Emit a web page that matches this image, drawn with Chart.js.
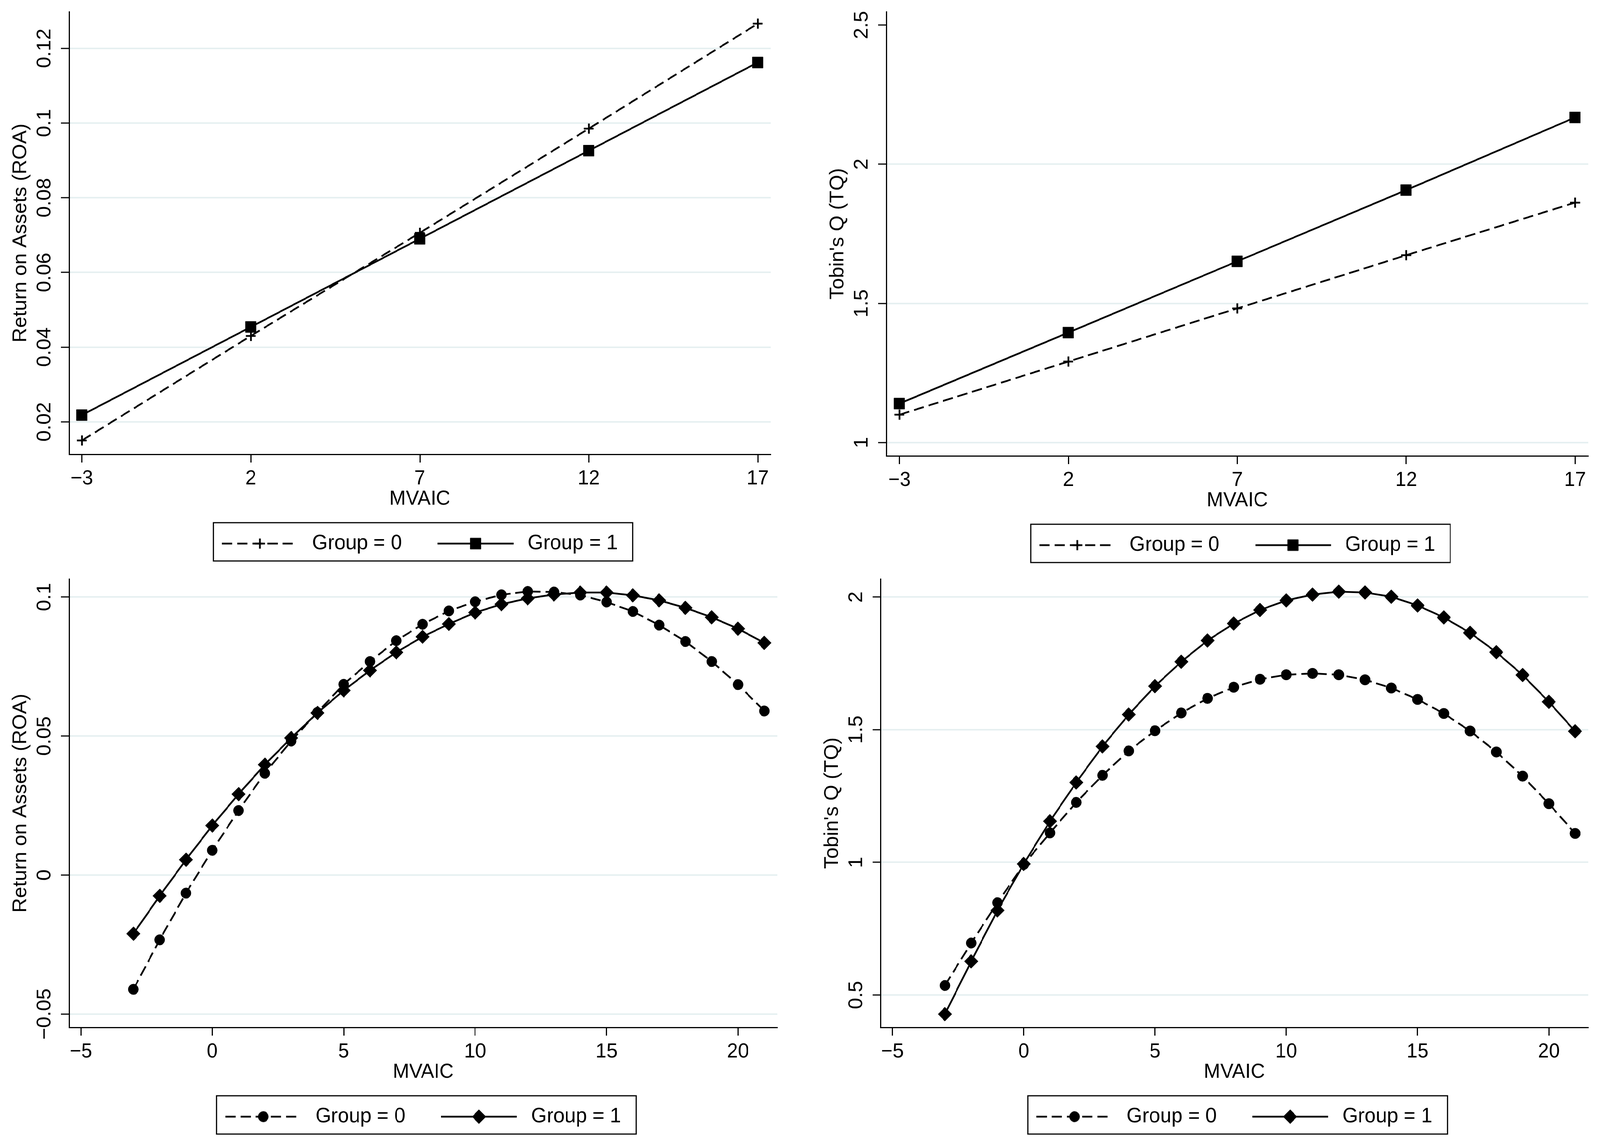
<!DOCTYPE html>
<html>
<head>
<meta charset="utf-8">
<title>ROA and Tobin's Q by MVAIC</title>
<script src="https://cdn.jsdelivr.net/npm/chart.js@4.4.1/dist/chart.umd.min.js"></script>
<style>
  html, body { margin: 0; padding: 0; background: #fff; overflow: hidden; }
  #page { position: relative; width: 4219px; height: 2931px; overflow: hidden; background: #fff; transform-origin: 0 0; }
  #page canvas { position: absolute; }
</style>
</head>
<body>
<div id="page">
  <canvas id="roa-linear"></canvas>
  <canvas id="tq-linear"></canvas>
  <canvas id="roa-quad"></canvas>
  <canvas id="tq-quad"></canvas>
</div>
<script>
'use strict';

// ************ DATA

// top row - linear fit, MVAIC in steps of 5
const mvaicLinear = [-3, 2, 7, 12, 17];
const roaLinearGroup0 = [0.0150, 0.0430, 0.0706, 0.0985, 0.1266];
const roaLinearGroup1 = [0.0218, 0.0454, 0.0690, 0.0926, 0.1162];
const tqLinearGroup0 = [1.100, 1.291, 1.482, 1.673, 1.862];
const tqLinearGroup1 = [1.140, 1.395, 1.651, 1.907, 2.168];

// bottom row - quadratic fit, MVAIC in steps of 1
const mvaicQuad = [-3, -2, -1, 0, 1, 2, 3, 4, 5, 6, 7, 8, 9, 10, 11, 12, 13, 14, 15, 16, 17, 18, 19, 20, 21];
const roaQuadGroup0 = [-0.0411, -0.0233, -0.0065, 0.0089, 0.0232, 0.0366, 0.0482, 0.0585, 0.0686, 0.0768, 0.0843, 0.0902, 0.0950,
  0.0983, 0.1008, 0.1020, 0.1018, 0.1007, 0.0982, 0.0948, 0.0899, 0.0840, 0.0768, 0.0685, 0.0590];
const roaQuadGroup1 = [-0.0211, -0.0075, 0.0055, 0.0178, 0.0291, 0.0397, 0.0493, 0.0583, 0.0664, 0.0736, 0.0801, 0.0857, 0.0903,
  0.0944, 0.0974, 0.0995, 0.1009, 0.1016, 0.1016, 0.1006, 0.0988, 0.0961, 0.0927, 0.0886, 0.0835];
const tqQuadGroup0 = [0.536, 0.696, 0.848, 0.992, 1.111, 1.226, 1.328, 1.420, 1.496, 1.563, 1.618, 1.660, 1.690,
  1.707, 1.712, 1.707, 1.688, 1.657, 1.614, 1.561, 1.495, 1.416, 1.325, 1.221, 1.109];
const tqQuadGroup1 = [0.428, 0.627, 0.819, 0.994, 1.155, 1.301, 1.437, 1.557, 1.664, 1.756, 1.836, 1.900, 1.951,
  1.987, 2.009, 2.020, 2.017, 2.001, 1.968, 1.923, 1.865, 1.792, 1.706, 1.605, 1.494];

// tick labels
const xTicksLinear = [-3, 2, 7, 12, 17];
const xTicksQuad = [-5, 0, 5, 10, 15, 20];
const roaLinearTicks = [0.02, 0.04, 0.06, 0.08, 0.1, 0.12];
const tqLinearTicks = [1, 1.5, 2, 2.5];
const roaQuadTicks = [-0.05, 0, 0.05, 0.1];
const tqQuadTicks = [0.5, 1, 1.5, 2];

const groupLabels = ['Group = 0', 'Group = 1'];
const xTitle = 'MVAIC';

// ************ LOOK

const PAGE_W = 4219;
const PAGE_H = 2931;
const FONT_FAMILY = "'Liberation Sans', Arial, Helvetica, sans-serif";
const AXIS_FONT = 52;
const LEGEND_FONT = 53;
const GRID_COLOR = 'rgb(230, 240, 241)';
const DASH = [27, 13];
const LINE_W = 4.5;

// space around the plot region (px)
const Y_SCALE_W = 182;   // y title + tick labels + ticks
const X_SCALE_H = 108;   // ticks + tick labels + x title
const TICK_LEN = 21;
const LEGEND_PAD = 94;
const LEGEND_ICON_W = 211;
const TOP_PAD = 60;
const RIGHT_PAD = 40;
const BOTTOM_PAD = 10;
const LEGEND_H = LEGEND_FONT + LEGEND_PAD + 10;

Chart.defaults.font.family = FONT_FAMILY;
Chart.defaults.color = '#000';

// fit the page into the window if the window is not the full size
(function fitPage() {
  let sx = window.innerWidth / PAGE_W;
  let sy = window.innerHeight / PAGE_H;
  if (!(sx > 0)) return;
  if (!(sy > 0.9 && sy < 1.1)) sy = sx;
  if (Math.abs(sx - 1) > 0.002 || Math.abs(sy - 1) > 0.002) {
    document.getElementById('page').style.transform = 'scale(' + sx + ',' + sy + ')';
  }
})();

const markerStyles = {
  plus: { pointStyle: 'cross', radius: 13, borderWidth: 4.5 },
  square: { pointStyle: 'rect', radius: 20, borderWidth: 1 },
  dot: { pointStyle: 'circle', radius: 13.5, borderWidth: 1 },
  diamond: { pointStyle: 'rectRot', radius: 18, borderWidth: 1 }
};

function tickText(v) {
  return String(v).replace('-', '\u2212');
}

// small picture of line + marker for the legend
function makeIcon(dashed, m) {
  let c = document.createElement('canvas');
  c.width = LEGEND_ICON_W;
  c.height = 60;
  let g = c.getContext('2d');
  g.strokeStyle = '#000';
  g.fillStyle = '#000';
  g.lineWidth = LINE_W;
  g.setLineDash(dashed ? DASH : []);
  g.beginPath();
  g.moveTo(0, 30);
  g.lineTo(200, 30);
  g.stroke();
  g.setLineDash([]);
  g.lineWidth = m.borderWidth;
  Chart.helpers.drawPoint(g, { pointStyle: m.pointStyle, radius: m.radius, rotation: 0, borderWidth: m.borderWidth }, 100, 30);
  return c;
}

function series(label, xs, ys, dashed, marker, order) {
  const m = markerStyles[marker];
  return {
    label: label,
    data: xs.map((x, i) => ({ x: x, y: ys[i] })),
    borderColor: '#000',
    backgroundColor: '#000',
    borderWidth: LINE_W,
    borderDash: dashed ? DASH : [],
    pointStyle: m.pointStyle,
    pointRadius: m.radius,
    pointHoverRadius: m.radius,
    pointBorderWidth: m.borderWidth,
    pointBackgroundColor: '#000',
    pointBorderColor: '#000',
    tension: 0,
    fill: false,
    order: order,
    legendIcon: makeIcon(dashed, m)
  };
}

// padding that puts the rotated y labels 63px left of the axis
function yTickPadding(ticks) {
  let g = document.createElement('canvas').getContext('2d');
  g.font = AXIS_FONT + 'px ' + FONT_FAMILY;
  let widest = Math.max(...ticks.map(v => g.measureText(tickText(v)).width));
  return 63 - TICK_LEN - widest / 2;
}

// frame round the legend like stata draws it
const legendFrame = {
  id: 'legendFrame',
  afterDraw(chart) {
    const boxes = chart.legend && chart.legend.legendHitBoxes;
    if (!boxes || !boxes.length) return;
    const first = boxes[0];
    const last = boxes[boxes.length - 1];
    const left = first.left - 23;
    const right = last.left + last.width + 40;
    const top = first.top - 27;
    const bottom = first.top + first.height + 18;
    const ctx = chart.ctx;
    ctx.save();
    ctx.setLineDash([]);
    ctx.strokeStyle = '#000';
    ctx.lineWidth = 3;
    ctx.strokeRect(left, top, right - left, bottom - top);
    ctx.restore();
  }
};

// ************ PANELS (plot region in page pixels)

const panels = [
  {
    id: 'roa-linear', axisLeft: 182, right: 2032, top: 30, bottom: 1163,
    xMin: -3.38, xMax: 17.38, xTicks: xTicksLinear,
    yMin: 0.0113, yMax: 0.1298, yTicks: roaLinearTicks, noGrid: [],
    yTitle: 'Return on Assets (ROA)',
    datasets: [
      series(groupLabels[0], mvaicLinear, roaLinearGroup0, true, 'plus', 1),
      series(groupLabels[1], mvaicLinear, roaLinearGroup1, false, 'square', 0)
    ]
  },
  {
    id: 'tq-linear', axisLeft: 2337, right: 4188, top: 30, bottom: 1167,
    xMin: -3.39, xMax: 17.39, xTicks: xTicksLinear,
    yMin: 0.952, yMax: 2.548, yTicks: tqLinearTicks, noGrid: [2.5],
    yTitle: "Tobin's Q (TQ)",
    datasets: [
      series(groupLabels[0], mvaicLinear, tqLinearGroup0, true, 'plus', 1),
      series(groupLabels[1], mvaicLinear, tqLinearGroup1, false, 'square', 0)
    ]
  },
  {
    id: 'roa-quad', axisLeft: 182, right: 2050, top: 1482, bottom: 2630,
    xMin: -5.45, xMax: 21.5, xTicks: xTicksQuad,
    yMin: -0.0548, yMax: 0.1065, yTicks: roaQuadTicks, noGrid: [],
    yTitle: 'Return on Assets (ROA)',
    datasets: [
      series(groupLabels[0], mvaicQuad, roaQuadGroup0, true, 'dot', 1),
      series(groupLabels[1], mvaicQuad, roaQuadGroup1, false, 'diamond', 0)
    ]
  },
  {
    id: 'tq-quad', axisLeft: 2322, right: 4188, top: 1482, bottom: 2630,
    xMin: -5.45, xMax: 21.5, xTicks: xTicksQuad,
    yMin: 0.378, yMax: 2.068, yTicks: tqQuadTicks, noGrid: [],
    yTitle: "Tobin's Q (TQ)",
    datasets: [
      series(groupLabels[0], mvaicQuad, tqQuadGroup0, true, 'dot', 1),
      series(groupLabels[1], mvaicQuad, tqQuadGroup1, false, 'diamond', 0)
    ]
  }
];

function renderPanel(p) {
  const canvas = document.getElementById(p.id);
  const left = p.axisLeft - Y_SCALE_W;
  const top = p.top - TOP_PAD;
  const width = Math.min(p.right + RIGHT_PAD, PAGE_W + 60) - left;
  const height = p.bottom - top + X_SCALE_H + LEGEND_H + BOTTOM_PAD;
  canvas.width = width;
  canvas.height = height;
  canvas.style.left = left + 'px';
  canvas.style.top = top + 'px';
  canvas.style.width = width + 'px';
  canvas.style.height = height + 'px';

  const axisFont = { size: AXIS_FONT, family: FONT_FAMILY };

  const chartObj = {
    type: 'line',
    data: { datasets: p.datasets },
    options: {
      responsive: false,
      animation: false,
      devicePixelRatio: 1,
      layout: { padding: { top: TOP_PAD, right: RIGHT_PAD, bottom: BOTTOM_PAD, left: 0 } },
      scales: {
        x: {
          type: 'linear',
          min: p.xMin,
          max: p.xMax,
          afterBuildTicks: s => { s.ticks = p.xTicks.map(v => ({ value: v })); },
          afterFit: s => { s.height = X_SCALE_H; },
          ticks: { font: axisFont, color: '#000', padding: 10, autoSkip: false, minRotation: 0, maxRotation: 0, callback: v => tickText(v) },
          grid: { drawOnChartArea: false, drawTicks: true, tickLength: TICK_LEN, tickColor: '#000', tickWidth: 3 },
          border: { display: true, color: '#000', width: 3 },
          title: { display: true, text: xTitle, font: axisFont, color: '#000', padding: { top: 0, bottom: -38 } }
        },
        y: {
          type: 'linear',
          min: p.yMin,
          max: p.yMax,
          afterBuildTicks: s => { s.ticks = p.yTicks.map(v => ({ value: v })); },
          afterFit: s => { s.width = Y_SCALE_W; },
          ticks: {
            font: axisFont, color: '#000', autoSkip: false,
            minRotation: 90, maxRotation: 90, crossAlign: 'center',
            padding: yTickPadding(p.yTicks),
            callback: v => tickText(v)
          },
          grid: {
            color: c => (c.tick && p.noGrid.includes(c.tick.value)) ? 'rgba(0,0,0,0)' : GRID_COLOR,
            lineWidth: 4,
            drawTicks: true,
            tickLength: TICK_LEN,
            tickColor: '#000',
            tickWidth: 3
          },
          border: { display: true, color: '#000', width: 3 },
          title: { display: true, text: p.yTitle, font: axisFont, color: '#000', padding: { top: 23, bottom: 0 } }
        }
      },
      plugins: {
        legend: {
          position: 'bottom',
          fullSize: false,
          align: 'center',
          labels: {
            usePointStyle: true,
            pointStyleWidth: LEGEND_ICON_W,
            padding: LEGEND_PAD,
            color: '#000',
            font: { size: LEGEND_FONT, family: FONT_FAMILY },
            generateLabels: chart => chart.data.datasets.map((d, i) => ({
              text: d.label,
              pointStyle: d.legendIcon,
              datasetIndex: i,
              hidden: false,
              lineWidth: 0,
              fillStyle: '#000',
              strokeStyle: '#000',
              fontColor: '#000'
            }))
          }
        },
        tooltip: { enabled: false }
      }
    },
    plugins: [legendFrame]
  };

  return new Chart(canvas.getContext('2d'), chartObj); // eslint-disable-line
}

panels.forEach(renderPanel);
</script>
</body>
</html>
